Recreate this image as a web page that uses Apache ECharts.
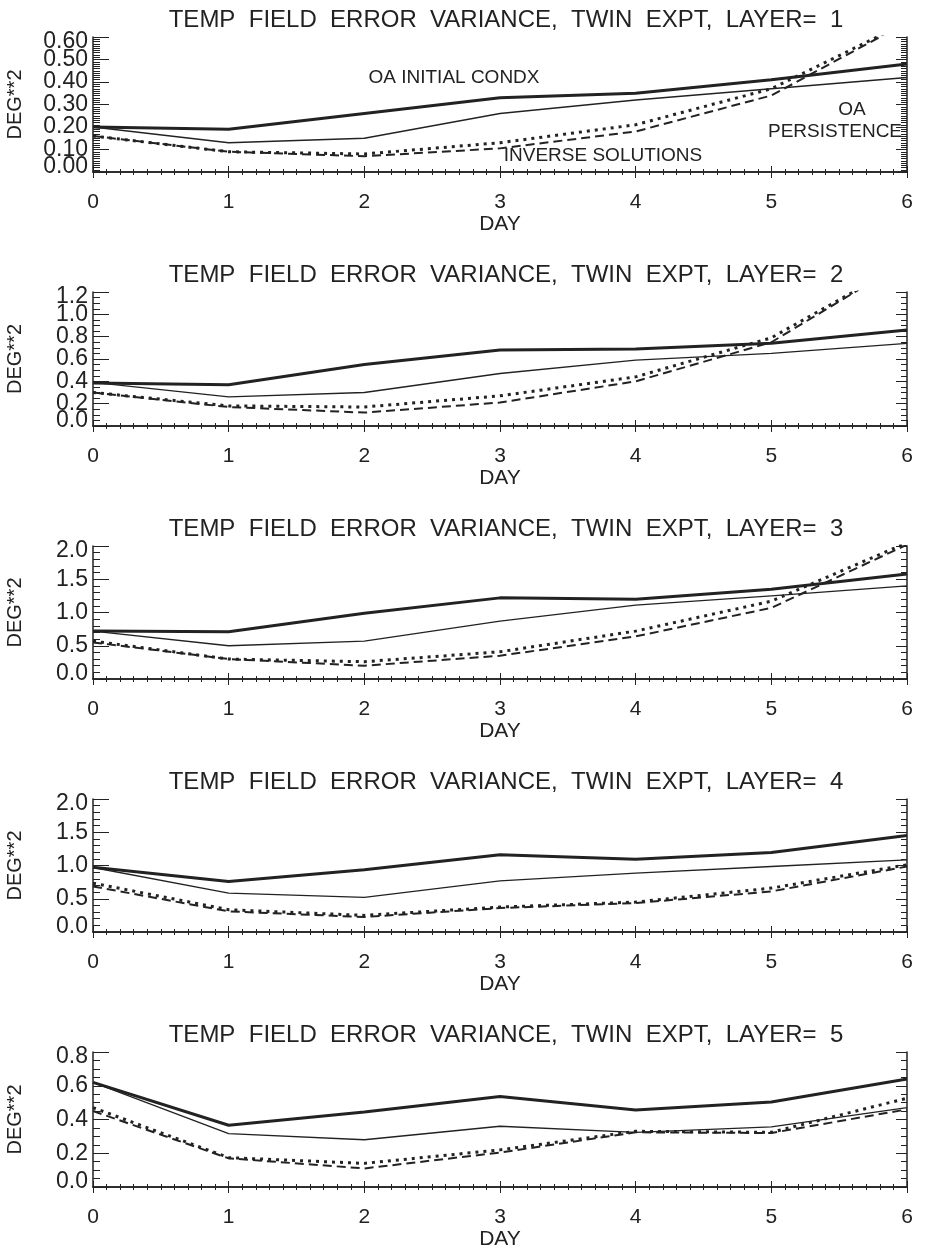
<!DOCTYPE html>
<html>
<head>
<meta charset="utf-8">
<script src="https://cdn.jsdelivr.net/npm/echarts@6/dist/echarts.min.js"></script>
<style>
  html, body { margin: 0; padding: 0; background: #fff; }
  #main { width: 927px; height: 1247px; }
</style>
</head>
<body>
<div id="main"></div>
<script>
// day axis, one point per day
var days = [0, 1, 2, 3, 4, 5, 6];
var layers = [1, 2, 3, 4, 5];

// OA initial condx (thick solid)
var oaInit = [
  [0.20, 0.19, 0.26, 0.33, 0.35, 0.41, 0.48],
  [0.385, 0.37, 0.55, 0.68, 0.69, 0.74, 0.86],
  [0.72, 0.71, 0.99, 1.22, 1.20, 1.35, 1.58],
  [0.975, 0.76, 0.935, 1.16, 1.095, 1.195, 1.45],
  [0.62, 0.366, 0.444, 0.536, 0.456, 0.504, 0.64]
];
// OA persistence (thin solid)
var oaPers = [
  [0.20, 0.13, 0.15, 0.26, 0.32, 0.37, 0.42],
  [0.39, 0.26, 0.30, 0.47, 0.59, 0.65, 0.74],
  [0.72, 0.50, 0.57, 0.87, 1.11, 1.25, 1.40],
  [0.97, 0.585, 0.52, 0.77, 0.885, 0.985, 1.085],
  [0.62, 0.316, 0.28, 0.36, 0.324, 0.356, 0.47]
];
// inverse solutions (dotted)
var invDot = [
  [0.16, 0.09, 0.08, 0.13, 0.21, 0.37, 0.665],
  [0.30, 0.18, 0.17, 0.27, 0.44, 0.79, 1.47],
  [0.57, 0.30, 0.26, 0.41, 0.72, 1.17, 2.05],
  [0.735, 0.335, 0.25, 0.375, 0.45, 0.66, 1.01],
  [0.47, 0.174, 0.14, 0.22, 0.33, 0.324, 0.526]
];
// inverse solutions (dashed)
var invDash = [
  [0.16, 0.09, 0.07, 0.105, 0.18, 0.34, 0.665],
  [0.30, 0.17, 0.12, 0.21, 0.40, 0.75, 1.48],
  [0.55, 0.30, 0.20, 0.35, 0.64, 1.07, 2.02],
  [0.685, 0.31, 0.225, 0.36, 0.435, 0.61, 0.985],
  [0.45, 0.17, 0.11, 0.204, 0.324, 0.32, 0.46]
];

// y axis per panel
var yMax = [0.6, 1.2, 2.0, 2.0, 0.8];
var yStep = [0.1, 0.2, 0.5, 0.5, 0.2];
var yMinor = [10, 4, 5, 5, 4];
var yDecimals = [2, 1, 1, 1, 1];

var panelTop = [37, 292, 546, 799, 1052];
var panelHeight = [135, 134, 133, 133, 135];

var ink = '#222';
var font = 'Liberation Sans';

var chart = echarts.init(document.getElementById('main'));

var grids = [], xAxes = [], yAxes = [], titles = [], series = [];

layers.forEach(function (layer, i) {
  grids.push({
    left: 93, width: 814, top: panelTop[i], height: panelHeight[i],
    containLabel: false, outerBoundsMode: 'none'
  });

  titles.push({
    text: 'TEMP  FIELD  ERROR  VARIANCE,  TWIN  EXPT,  LAYER=  ' + layer,
    left: 501,
    textAlign: 'center',
    top: panelTop[i] - 34,
    textStyle: { fontFamily: font, fontSize: 24, fontWeight: 'normal', color: ink }
  });

  var line = { show: true, lineStyle: { color: ink, width: 1.5 } };

  xAxes.push({
    type: 'value', gridIndex: i, position: 'bottom', min: 0, max: 6, interval: 1,
    name: 'DAY', nameLocation: 'middle', nameGap: 35,
    nameTextStyle: { fontFamily: font, fontSize: 21, color: ink },
    axisLine: line,
    axisTick: { show: true, inside: true, length: 6, lineStyle: { color: ink } },
    minorTick: { show: true, splitNumber: 10, length: 3, lineStyle: { color: ink } },
    axisLabel: { margin: 20, fontFamily: font, fontSize: 21, color: ink, showMinLabel: true, showMaxLabel: true },
    splitLine: { show: false }
  });
  xAxes.push({
    type: 'value', gridIndex: i, position: 'top', min: 0, max: 6, interval: 1,
    axisLine: line,
    axisTick: { show: true, inside: true, length: 6, lineStyle: { color: ink } },
    minorTick: { show: true, splitNumber: 10, length: 3, lineStyle: { color: ink } },
    axisLabel: { show: false },
    splitLine: { show: false }
  });

  var dec = yDecimals[i];
  var top = yMax[i];
  function isEnd(v) { return Math.abs(v) < 1e-9 || Math.abs(v - top) < 1e-9; }

  // left axis: line, ticks, name and the inner labels
  yAxes.push({
    type: 'value', gridIndex: i, position: 'left', min: 0, max: yMax[i], interval: yStep[i],
    name: 'DEG**2', nameLocation: 'middle', nameGap: 68, nameRotate: 90,
    nameTextStyle: { fontFamily: font, fontSize: 20, color: ink },
    axisLine: line,
    axisTick: { show: true, inside: true, length: 16, lineStyle: { color: ink } },
    minorTick: { show: true, splitNumber: yMinor[i], length: 7, lineStyle: { color: ink } },
    axisLabel: {
      margin: 5, fontFamily: font, fontSize: 23, color: ink,
      showMinLabel: false, showMaxLabel: false,
      formatter: function (v) { return v.toFixed(dec); }
    },
    splitLine: { show: false }
  });
  // same scale, only the end labels, nudged inside the range like IDL does
  yAxes.push({
    type: 'value', gridIndex: i, position: 'left', min: 0, max: yMax[i], interval: yStep[i],
    axisLine: { show: false },
    axisTick: { show: false },
    axisLabel: {
      margin: 5, fontFamily: font, fontSize: 23, color: ink,
      showMinLabel: true, showMaxLabel: true,
      formatter: function (v) {
        if (!isEnd(v)) return '';
        var s = v.toFixed(dec);
        return Math.abs(v) < 1e-9 ? '{lo|' + s + '}' : '{hi|' + s + '}';
      },
      rich: {
        lo: { fontFamily: font, fontSize: 23, color: ink, padding: [0, 0, 10, 0] },
        hi: { fontFamily: font, fontSize: 23, color: ink, padding: [10, 0, 0, 0] }
      }
    },
    splitLine: { show: false }
  });
  yAxes.push({
    type: 'value', gridIndex: i, position: 'right', min: 0, max: yMax[i], interval: yStep[i],
    axisLine: line,
    axisTick: { show: true, inside: true, length: 11, lineStyle: { color: ink } },
    minorTick: { show: true, splitNumber: yMinor[i], length: 6, lineStyle: { color: ink } },
    axisLabel: { show: false },
    splitLine: { show: false }
  });

  function pairs(vals) {
    return days.map(function (d, k) { return [d, vals[k]]; });
  }
  var xi = i * 2, yi = i * 3;
  series.push({
    type: 'line', xAxisIndex: xi, yAxisIndex: yi, data: pairs(oaInit[i]),
    showSymbol: false, silent: true, lineStyle: { color: ink, width: 3 }
  });
  series.push({
    type: 'line', xAxisIndex: xi, yAxisIndex: yi, data: pairs(oaPers[i]),
    showSymbol: false, silent: true, lineStyle: { color: ink, width: 1.3 }
  });
  series.push({
    type: 'line', xAxisIndex: xi, yAxisIndex: yi, data: pairs(invDot[i]),
    showSymbol: false, silent: true, lineStyle: { color: ink, width: 3, type: [3, 5] }
  });
  series.push({
    type: 'line', xAxisIndex: xi, yAxisIndex: yi, data: pairs(invDash[i]),
    showSymbol: false, silent: true, lineStyle: { color: ink, width: 2, type: [9, 5] }
  });
});

function note(text, x, y) {
  return {
    type: 'text', x: x, y: y, z: 100,
    style: { text: text, fill: ink, font: '19px "Liberation Sans"', textAlign: 'center', textVerticalAlign: 'middle' }
  };
}

var option = {
  backgroundColor: '#fff',
  animation: false,
  title: titles,
  grid: grids,
  xAxis: xAxes,
  yAxis: yAxes,
  series: series,
  graphic: [
    note('OA INITIAL CONDX', 454, 78),
    note('INVERSE SOLUTIONS', 603, 156),
    note('OA', 852, 110),
    note('PERSISTENCE', 835, 132)
  ]
};

chart.setOption(option);
</script>
</body>
</html>
